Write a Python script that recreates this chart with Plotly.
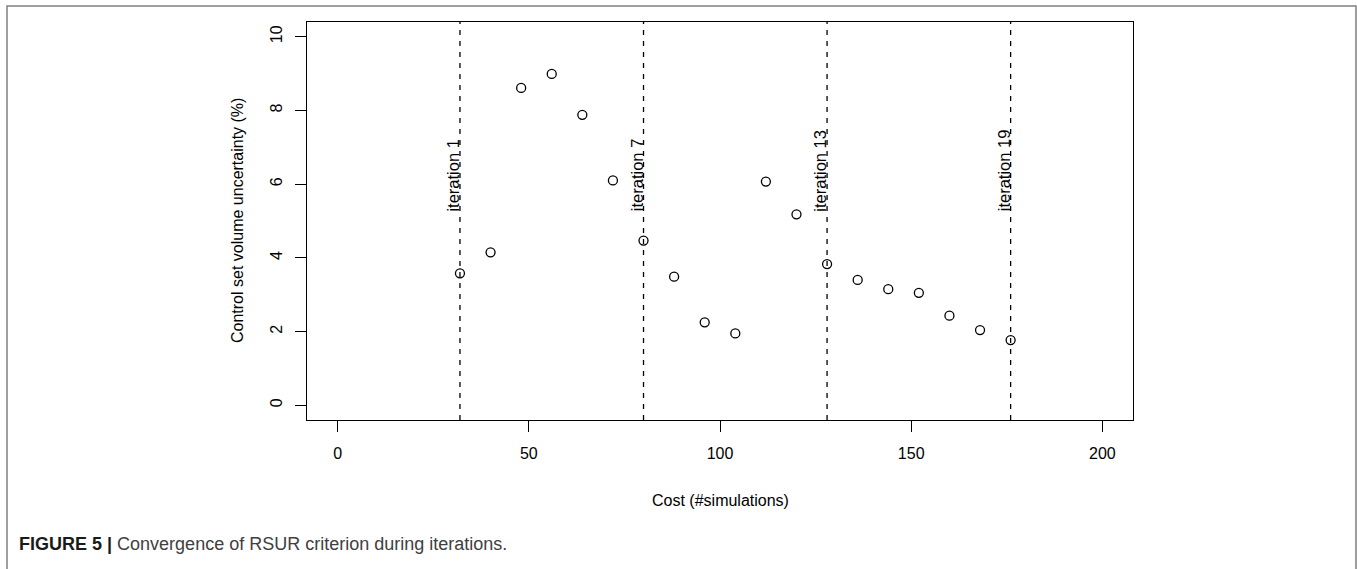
import plotly.graph_objects as go

# ---- data ----
cost = [32, 40, 48, 56, 64, 72, 80, 88, 96, 104, 112, 120, 128, 136, 144, 152, 160, 168, 176]
uncertainty = [3.58, 4.15, 8.61, 8.99, 7.88, 6.10, 4.47, 3.49, 2.25, 1.95, 6.07, 5.18,
               3.83, 3.40, 3.15, 3.05, 2.43, 2.04, 1.77]
iter_cost = [32, 80, 128, 176]
iter_labels = ["iteration 1", "iteration 7", "iteration 13", "iteration 19"]
iter_label_y = 5.2
x_ticks = [0, 50, 100, 150, 200]
y_ticks = [0, 2, 4, 6, 8, 10]

W, H = 1357, 569
L, R, T, B = 307, 1133, 22, 420
pw, ph = R - L, B - T

def px(xp):
    return (xp - L) / pw

def py(yp):
    return (B - yp) / ph

FONT = "Liberation Sans, Arial, Helvetica, sans-serif"
fs = 16

fig = go.Figure()

fig.add_trace(go.Scatter(
    x=cost, y=uncertainty, mode="markers",
    marker=dict(symbol="circle-open", size=9, color="black", line=dict(width=1.3, color="black")),
    showlegend=False, hoverinfo="x+y",
))

shapes = []
annotations = []
for xc, lab in zip(iter_cost, iter_labels):
    shapes.append(dict(type="line", xref="x", yref="paper", x0=xc, x1=xc, y0=0, y1=1,
                       line=dict(color="black", width=1.3, dash="5px,6px"), layer="below"))
    annotations.append(dict(x=xc, y=iter_label_y, xref="x", yref="y", text=lab, showarrow=False,
                            textangle=-90, xanchor="right", yanchor="bottom", xshift=4,
                            font=dict(family=FONT, size=16.5, color="black")))

# outer figure frame
shapes.append(dict(type="rect", xref="paper", yref="paper",
                   x0=px(7), x1=px(1356), y0=py(600), y1=py(6),
                   line=dict(color="#808080", width=1.5), fillcolor="rgba(0,0,0,0)", layer="below"))

# axis titles
annotations.append(dict(x=0.5, y=0, xref="paper", yref="paper", yshift=-(500 - B),
                        text="Cost (#simulations)", showarrow=False, xanchor="center", yanchor="middle",
                        font=dict(family=FONT, size=fs, color="black")))
annotations.append(dict(x=0, y=0.5, xref="paper", yref="paper", xshift=237 - L,
                        text="Control set volume uncertainty (%)", showarrow=False, textangle=-90,
                        xanchor="center", yanchor="middle",
                        font=dict(family=FONT, size=fs, color="black")))
# caption
annotations.append(dict(x=0, y=0, xref="paper", yref="paper", xshift=17 - L, yshift=-(544 - B),
                        text="<b>FIGURE 5 |</b> <span style='color:#404040'>Convergence of RSUR criterion during iterations.</span>",
                        showarrow=False, xanchor="left", yanchor="middle",
                        font=dict(family=FONT, size=18, color="#1a1a1a")))

axis_common = dict(showline=True, linecolor="black", linewidth=1.3, mirror=True,
                   ticks="outside", ticklen=11, tickwidth=1.3, tickcolor="black",
                   showgrid=False, zeroline=False,
                   tickfont=dict(family=FONT, size=fs, color="black"))

fig.update_layout(
    width=W, height=H,
    margin=dict(l=L, r=W - R, t=T, b=H - B, autoexpand=False),
    paper_bgcolor="white", plot_bgcolor="white",
    xaxis=dict(range=[-8, 208], tickvals=x_ticks, ticklabelstandoff=8, **axis_common),
    yaxis=dict(range=[-0.4, 10.4], tickvals=y_ticks, tickangle=-90, ticklabelstandoff=6, **axis_common),
    shapes=shapes, annotations=annotations,
    showlegend=False,
)

fig.write_html("out.html", config={"displayModeBar": False},
               post_script="document.body.style.margin='0px';document.body.style.overflow='hidden';")
